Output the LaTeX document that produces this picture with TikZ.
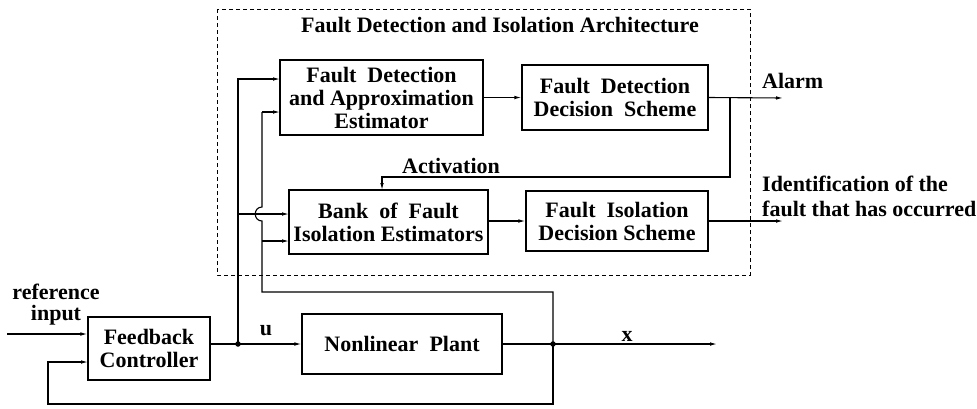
\documentclass[tikz,border=0pt]{standalone}
\usepackage{fontspec}
\setmainfont{Liberation Serif}
\usetikzlibrary{arrows.meta}
\begin{document}
\begin{tikzpicture}[x=1pt,y=-1pt,
  every node/.style={font=\bfseries\fontsize{22}{23}\selectfont},
  blk/.style={draw,line width=1.1pt,align=center,inner sep=0pt},
  wire/.style={line width=1.1pt},
  arr/.style={wire,-{Latex[length=7pt,width=3.6pt]}},
  dot/.style={circle,fill,inner sep=0pt,minimum size=5.5pt},
  lbl/.style={inner sep=0pt}]
\useasboundingbox (0,0) rectangle (977,408);
% dashed architecture frame
\draw[line width=0.8pt,dash pattern=on 4pt off 3pt] (217,9) rectangle (750,275);
\node[lbl] (title) at (500,25) {Fault Detection and Isolation Architecture};
% blocks
\node[blk,minimum width=203pt,minimum height=75pt] (fdae) at (381.5,97.5) {Fault\ \ Detection\\and Approximation\\Estimator};
\node[blk,minimum width=186pt,minimum height=65pt] (fdds) at (615,97.5) {Fault\ \ Detection\\Decision\ \ Scheme};
\node[blk,minimum width=199pt,minimum height=64pt] (bank) at (388.5,222) {Bank\ \ of\ \ Fault\\Isolation Estimators};
\node[blk,minimum width=182pt,minimum height=60pt] (fids) at (617,221) {Fault\ \ Isolation\\Decision Scheme};
\node[blk,minimum width=122pt,minimum height=63pt] (fc) at (149,348.5) {Feedback\\Controller};
\node[blk,minimum width=200pt,minimum height=60pt] (np) at (402,344) {Nonlinear\ \ Plant};
% labels
\node[lbl,align=center,font=\bfseries\fontsize{22}{21}\selectfont] (ref) at (56,305) {reference\\input};
\node[lbl] (ulbl) at (266,331) {u};
\node[lbl] (xlbl) at (627,336) {x};
\node[lbl] (actlbl) at (451,166) {Activation};
\node[lbl,anchor=west] (alarm) at (762,81) {Alarm};
\node[lbl,anchor=west,align=left,font=\bfseries\fontsize{22}{25}\selectfont] (ident) at (762,196) {Identification of the\\fault that has occurred};
% coordinates
\coordinate (refin) at (7,334);
\coordinate (ju) at (238,344);
\coordinate (jx) at (553,344);
\coordinate (xout) at (717,344);
\coordinate (a1) at (280,79);
\coordinate (a2) at (280,112);
\coordinate (b1) at (289,214);
\coordinate (b2) at (289,241);
\coordinate (alarmtip) at (783,98);
\coordinate (acttap) at (730,98);
\coordinate (banktop) at (382,190);
\coordinate (identtip) at (783,221);
\coordinate (fbin) at (88,362);
% controller and plant
\draw[arr] (refin) -- (fc.west |- refin);
\draw[wire] (fc.east |- ju) -- (ju);
\draw[arr] (ju) -- (np.west |- ju);
\node[dot] (dju) at (ju) {};
\draw[wire] (np.east |- jx) -- (jx);
\draw[arr] (jx) -- (xout);
\node[dot] (djx) at (jx) {};
\draw[arr] (jx) -- (jx |- 0,404) -- (48,404) -- (fbin -| 48,0) -- (fbin);
% control signal to estimators
\draw[arr] (ju) -- (ju |- a1) -- (a1);
\draw[arr] (ju |- b1) -- (b1);
% plant state to estimators (with hop)
\draw[wire] (jx) -- (553,292) -- (262,292) -- (262,221)
   .. controls (253,221) and (253,207) .. (262,207) -- (262,112);
\draw[arr] (262,112) -- (a2);
\draw[arr] (262,241) -- (b2);
% FDI internals
\draw[arr] (fdae.east |- fdds.west) -- (fdds.west);
\draw[arr] (fdds.east) -- (alarmtip);
\draw[arr] (acttap) -- (acttap |- 0,177) -- (banktop |- 0,177) -- (banktop);
\draw[arr] (bank.east |- fids.west) -- (fids.west);
\draw[arr] (fids.east) -- (identtip);
\end{tikzpicture}
\end{document}
